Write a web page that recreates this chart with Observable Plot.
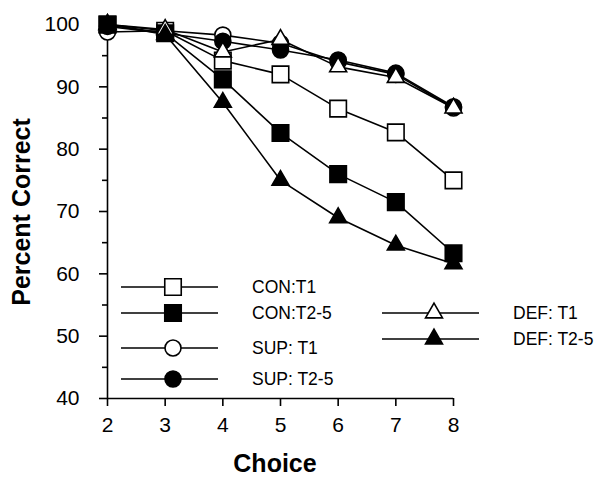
<!DOCTYPE html>
<html><head><meta charset="utf-8">
<script src="https://cdn.jsdelivr.net/npm/d3@7"></script>
<script src="https://cdn.jsdelivr.net/npm/@observablehq/plot@0.6"></script>
<style>body{margin:0;background:#fff} #chart{width:615px;height:477px}</style>
</head><body><div id="chart"></div>
<script>
// ---- data ----
const choices = [2, 3, 4, 5, 6, 7, 8];
const seriesNames = ["CON:T1", "CON:T2-5", "SUP: T1", "SUP: T2-5", "DEF: T1", "DEF: T2-5"];
const conT1  = [100, 99.0, 94.2, 92.0, 86.5, 82.7, 75.0];
const conT25 = [100, 98.6, 91.2, 82.6, 76.0, 71.5, 63.3];
const supT1  = [98.8, 99.0, 98.3, 97.0, 94.0, 92.0, 86.6];
const supT25 = [99.7, 98.6, 97.3, 95.9, 94.3, 92.2, 86.8];
const defT1  = [100, 99.2, 95.6, 97.6, 93.2, 91.5, 86.6];
const defT25 = [100, 98.4, 87.5, 75.0, 69.0, 64.6, 61.6];
const yTicks = [40, 50, 60, 70, 80, 90, 100];
const yMinor = [45, 55, 65, 75, 85, 95];

const seriesValues = [conT1, conT25, supT1, supT25, defT1, defT25];
const symbols = ["square", "square", "circle", "circle", "triangle", "triangle"];
const fills = ["white", "black", "white", "black", "white", "black"];
const radii = {square: 9.3, circle: 8, triangle: 6.3};

const rows = [];
seriesNames.forEach((name, i) => choices.forEach((c, j) => rows.push({series: name, idx: i, choice: c, value: seriesValues[i][j]})));

const drawOrder = [2, 3, 0, 1, 4, 5];
const marks = [];
drawOrder.forEach(i => marks.push(Plot.line(rows.filter(d => d.idx === i), {x: "choice", y: "value", stroke: "black", strokeWidth: 1.6})));
drawOrder.forEach(i => marks.push(Plot.dot(rows.filter(d => d.idx === i), {x: "choice", y: "value", symbol: symbols[i], r: radii[symbols[i]], fill: fills[i], stroke: "black", strokeWidth: 1.6})));

const plot = Plot.plot({
  width: 615, height: 477,
  marginLeft: 107, marginRight: 162, marginTop: 24, marginBottom: 79,
  style: {fontFamily: "'Liberation Sans', Arial, sans-serif", fontSize: "21px", color: "black", background: "white", overflow: "visible"},
  x: {domain: [2, 8]},
  y: {domain: [40, 100]},
  marks: [
    Plot.axisX({ticks: choices, tickFormat: "d", tickSize: 8, tickPadding: 11, label: null, strokeWidth: 1.6, fontSize: 21}),
    Plot.axisY({ticks: yTicks, tickFormat: "d", tickSize: 8, tickPadding: 20, label: null, strokeWidth: 1.6, fontSize: 21}),
    Plot.axisY({ticks: yMinor, tickSize: 5, tickFormat: () => "", label: null, strokeWidth: 1.6}),
    Plot.ruleY([40], {strokeWidth: 1.6}),
    Plot.ruleX([2], {strokeWidth: 1.6}),
    ...marks
  ]
});
document.getElementById("chart").appendChild(plot);

// ---- titles & legend ----
const svg = d3.select(plot);
const font = "'Liberation Sans', Arial, sans-serif";
svg.append("text").attr("transform", "translate(21,212) rotate(-90)")
  .attr("text-anchor", "middle").attr("dominant-baseline", "central")
  .style("font", `bold 25px ${font}`).text("Percent Correct");
svg.append("text").attr("x", 275).attr("y", 472).attr("text-anchor", "middle")
  .style("font", `bold 25px ${font}`).text("Choice");

const legendPos = [
  {x: 121, y: 287}, {x: 121, y: 313}, {x: 121, y: 348}, {x: 121, y: 379},
  {x: 382, y: 313}, {x: 382, y: 339}
];
const symMap = {square: d3.symbolSquare, circle: d3.symbolCircle, triangle: d3.symbolTriangle};
const lg = svg.append("g");
seriesNames.forEach((name, i) => {
  const p = legendPos[i];
  const r = radii[symbols[i]];
  lg.append("line").attr("x1", p.x).attr("x2", p.x + 97).attr("y1", p.y).attr("y2", p.y)
    .attr("stroke", "black").attr("stroke-width", 1.6);
  lg.append("path").attr("transform", `translate(${p.x + 52},${p.y})`)
    .attr("d", d3.symbol(symMap[symbols[i]], r * r * Math.PI)())
    .attr("fill", fills[i]).attr("stroke", "black").attr("stroke-width", 1.6);
  lg.append("text").attr("x", p.x + 131).attr("y", p.y).attr("text-anchor", "start")
    .attr("dominant-baseline", "central")
    .style("font", `17.5px ${font}`).text(name);
});
</script>
</body></html>
